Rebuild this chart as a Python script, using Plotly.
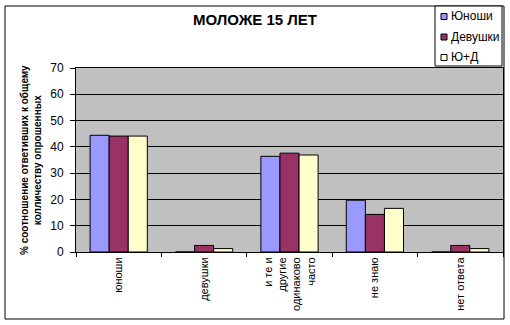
import plotly.graph_objects as go

categories = ["юноши", "девушки", "и те и<br>другие<br>одинаково<br>часто", "не знаю", "нет ответа"]
series_names = ["Юноши", "Девушки", "Ю+Д"]
yunoshi = [44.4, 0, 36.4, 19.7, 0]
devushki = [44.1, 2.5, 37.6, 14.3, 2.5]
yd = [44.1, 1.3, 36.9, 16.6, 1.3]
colors = ["#9999FF", "#993366", "#FFFFCC"]

FONT = "Arial, Liberation Sans, sans-serif"

fig = go.Figure()
for name, vals, col in zip(series_names, [yunoshi, devushki, yd], colors):
    fig.add_trace(go.Bar(x=categories, y=vals, name=name, marker_color=col,
                         marker_line_color="black", marker_line_width=1,
                         showlegend=False))

W, H = 510, 325
L, R, T, B = 76, 7, 68, 73
pw, ph = W - L - R, H - T - B

def px(x):
    return (x - L) / pw

def py(y):
    return (H - B - y) / ph

shapes = [dict(type="rect", xref="paper", yref="paper",
               x0=px(5), x1=px(504), y0=py(319), y1=py(6),
               line=dict(color="black", width=1), fillcolor="rgba(0,0,0,0)", layer="above"),
          dict(type="rect", xref="paper", yref="paper",
               x0=px(435), x1=px(502), y0=py(66), y1=py(6),
               line=dict(color="black", width=1), fillcolor="white", layer="above")]
annotations = [dict(text="<b>% соотношение ответивших к общему<br>колличеству опрошенных</b>",
                    xref="paper", yref="paper", x=px(31), y=0.5, textangle=-90,
                    showarrow=False, font=dict(size=10, family=FONT),
                    xanchor="center", yanchor="middle")]

# legend entries
for i, (name, col) in enumerate(zip(series_names, colors)):
    yc = 16.5 + i * 20.5
    shapes.append(dict(type="rect", xref="paper", yref="paper",
                       x0=px(441), x1=px(447), y0=py(yc + 3), y1=py(yc - 3),
                       line=dict(color="black", width=1), fillcolor=col, layer="above"))
    annotations.append(dict(text=name, xref="paper", yref="paper", x=px(449), y=py(yc),
                            xanchor="left", yanchor="middle", showarrow=False,
                            font=dict(size=12, family=FONT)))

fig.update_layout(
    width=W, height=H,
    margin=dict(l=L, r=R, t=T, b=B),
    paper_bgcolor="white", plot_bgcolor="#C0C0C0",
    barmode="group", bargap=0.33, bargroupgap=0,
    font=dict(family=FONT, size=11, color="black"),
    title=dict(text="<b>МОЛОЖЕ 15 ЛЕТ</b>", x=0.5, xref="container", xanchor="center",
               y=1 - 20 / H, yanchor="middle", font=dict(size=15, family=FONT)),
    showlegend=False,
    xaxis=dict(showline=True, linecolor="black", linewidth=1, mirror=True,
               ticks="outside", tickson="boundaries", ticklen=4, tickcolor="black",
               tickangle=-90, tickfont=dict(size=11, family=FONT),
               showgrid=False),
    yaxis=dict(range=[0, 70], dtick=10, showline=True, linecolor="black", linewidth=1,
               mirror=True, ticks="outside", ticklen=5, tickcolor="black",
               ticklabelstandoff=4,
               showgrid=True, gridcolor="black", gridwidth=1,
               tickfont=dict(size=12, family=FONT), zeroline=False),
    shapes=shapes,
    annotations=annotations,
)

fig.write_html("out.html")
